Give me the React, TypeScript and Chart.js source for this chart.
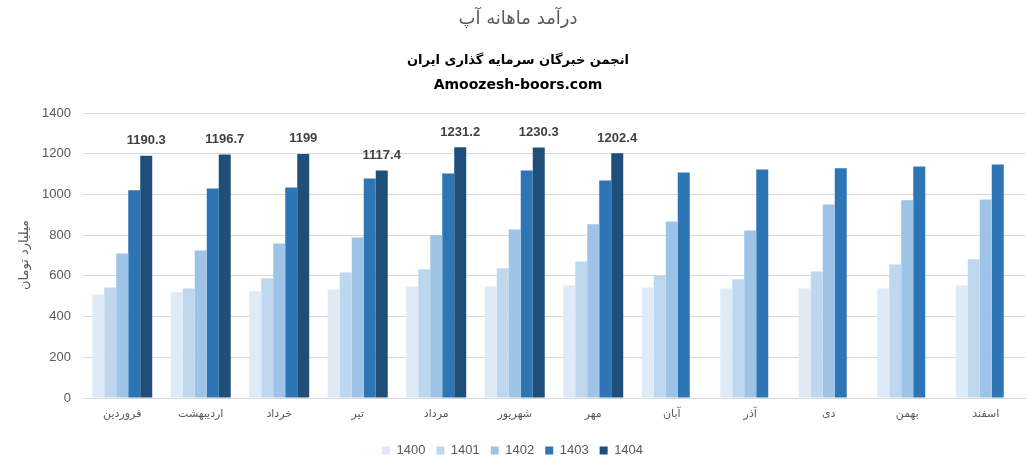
import React, { useEffect, useRef } from "react";
import { Chart, registerables } from "chart.js";

Chart.register(...registerables);

const months = ["فروردین", "اردیبهشت", "خرداد", "تیر", "مرداد", "شهریور", "مهر", "آبان", "آذر", "دی", "بهمن", "اسفند"];
const years = ["1400", "1401", "1402", "1403", "1404"];
const v1400 = [509, 519, 524, 533, 548, 548, 553, 543, 538, 538, 538, 553];
const v1401 = [543, 538, 588, 617, 632, 637, 671, 601, 583, 622, 656, 681];
const v1402 = [710, 725, 759, 789, 799, 828, 853, 867, 823, 951, 971, 975];
const v1403 = [1020, 1029, 1034, 1078, 1103, 1118, 1069, 1108, 1123, 1128, 1137, 1147];
const v1404 = [1190.3, 1196.7, 1199, 1117.4, 1231.2, 1230.3, 1202.4, null, null, null, null, null];
const colors = ["#deeaf6", "#bdd7ee", "#9dc3e6", "#2e75b6", "#1f4e79"];
const yTicks = [0, 200, 400, 600, 800, 1000, 1200, 1400];

const titleText = "درآمد ماهانه آپ";
const subtitle1 = "انجمن خبرگان سرمایه گذاری ایران";
const subtitle2 = "Amoozesh-boors.com";
const yTitle = "میلیارد تومان";

const headerPlugin = {
  id: "header",
  afterDraw(chart: any) {
    const ctx = chart.ctx;
    ctx.save();
    ctx.textAlign = "center";
    ctx.textBaseline = "middle";
    ctx.fillStyle = "#595959";
    ctx.font = "18px 'DejaVu Sans'";
    ctx.fillText(titleText, 518, 19);
    ctx.fillStyle = "#000000";
    ctx.font = "bold 13px 'DejaVu Sans'";
    ctx.fillText(subtitle1, 518, 61);
    ctx.font = "bold 14px 'DejaVu Sans'";
    ctx.fillText(subtitle2, 518, 85);
    // y axis title
    ctx.translate(25, 255);
    ctx.rotate(-Math.PI / 2);
    ctx.fillStyle = "#595959";
    ctx.font = "13px 'DejaVu Sans'";
    ctx.fillText(yTitle, 0, 0);
    ctx.restore();
  },
};

const labelPlugin = {
  id: "barLabels",
  afterDatasetsDraw(chart: any) {
    const ctx = chart.ctx;
    const meta = chart.getDatasetMeta(4);
    const data = chart.data.datasets[4].data;
    ctx.save();
    ctx.textAlign = "center";
    ctx.textBaseline = "middle";
    ctx.fillStyle = "#404040";
    ctx.font = "bold 13px 'Liberation Sans'";
    meta.data.forEach((el: any, i: number) => {
      const v = data[i];
      if (v == null) return;
      ctx.fillText(String(v), el.x, el.y - 15);
    });
    ctx.restore();
  },
};

export default function App() {
  const ref = useRef<HTMLCanvasElement>(null);
  useEffect(() => {
    document.body.style.margin = "0";
    const series = [v1400, v1401, v1402, v1403, v1404];
    const chart = new Chart(ref.current!, {
      type: "bar",
      data: {
        labels: months,
        datasets: years.map((y, i) => ({
          label: y,
          data: series[i],
          backgroundColor: colors[i],
          borderWidth: 0,
        })),
      },
      options: {
        animation: false,
        responsive: false,
        maintainAspectRatio: false,
        datasets: { bar: { categoryPercentage: 0.764, barPercentage: 1 } },
        layout: { padding: { top: 113, right: 10, left: 0, bottom: 0 } },
        plugins: {
          title: { display: false },
          tooltip: { enabled: false },
          legend: {
            position: "bottom",
            labels: {
              boxWidth: 8,
              boxHeight: 8,
              color: "#595959",
              font: { family: "'Liberation Sans'", size: 13 },
              padding: 11,
            },
          },
        },
        scales: {
          x: {
            afterFit(scale: any) {
              scale.height = 35;
            },
            grid: { display: false, drawTicks: false },
            border: { color: "#d9d9d9" },
            ticks: {
              color: "#595959",
              font: { family: "'DejaVu Sans'", size: 11 },
              padding: 10,
            },
          },
          y: {
            min: 0,
            max: 1400,
            afterBuildTicks(scale: any) {
              scale.ticks = yTicks.map((v) => ({ value: v }));
            },
            afterFit(scale: any) {
              scale.width = 83;
            },
            grid: { color: "#d9d9d9", drawTicks: false },
            border: { display: false },
            ticks: {
              color: "#595959",
              font: { family: "'Liberation Sans'", size: 13 },
              padding: 12,
              callback: (v: any) => String(v),
            },
          },
        },
      },
      plugins: [headerPlugin, labelPlugin],
    });
    return () => chart.destroy();
  }, []);
  return (
    <div style={{ width: 1035, height: 467 }}>
      <canvas ref={ref} width={1035} height={467} />
    </div>
  );
}
